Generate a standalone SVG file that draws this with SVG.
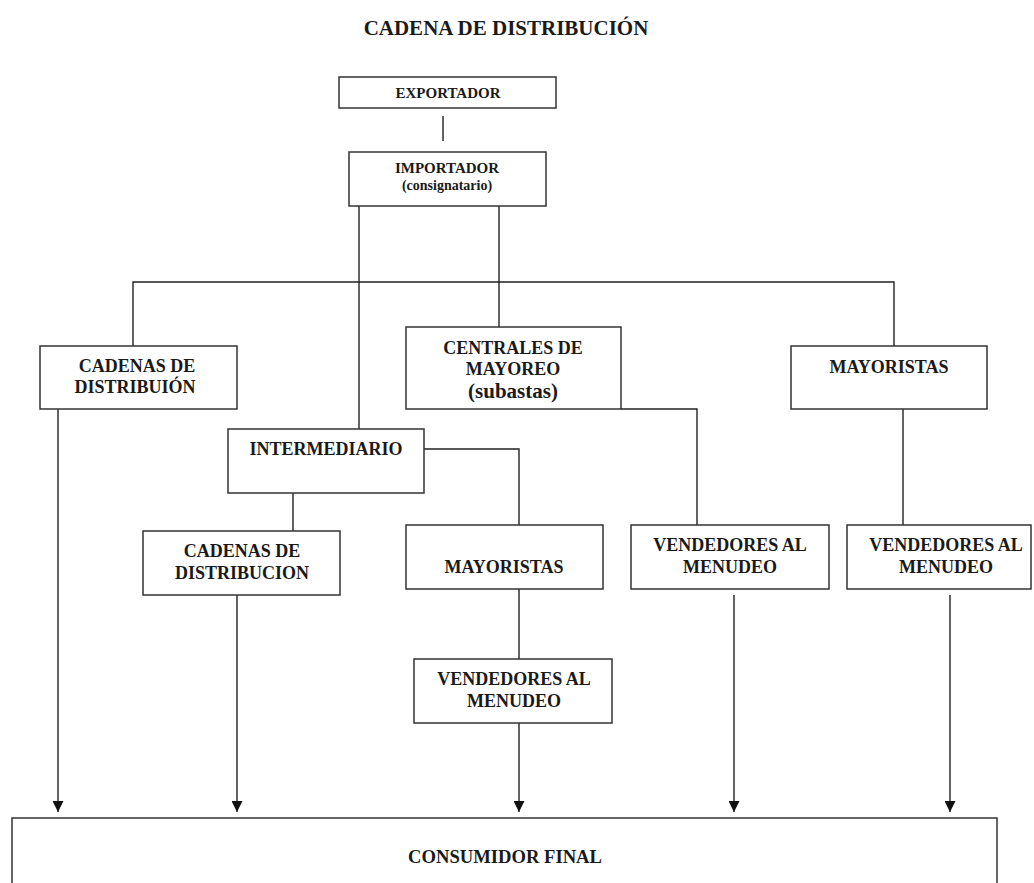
<svg xmlns="http://www.w3.org/2000/svg" width="1034" height="883" viewBox="0 0 1034 883">
<style>
  .box{fill:#fff;stroke:#333;stroke-width:1.5}
  .t{font-family:"Liberation Serif","Times New Roman",serif;font-weight:bold;font-size:18px;fill:#1a1a1a;text-anchor:middle}
  .s{font-size:15px}
  .xs{font-size:14px}
  .b{font-size:21px}
  .c{fill:none;stroke:#222;stroke-width:1.4}
</style>
<defs>
  <marker id="ah" markerUnits="userSpaceOnUse" markerWidth="11" markerHeight="11" refX="11" refY="5.5" orient="auto" viewBox="0 0 11 11">
    <path d="M0,0 L11,5.5 L0,11 z" fill="#111"/>
  </marker>
</defs>
<rect width="1034" height="883" fill="#fff"/>
<text class="t b" x="506" y="35">CADENA DE DISTRIBUCIÓN</text>

<g id="connectors">
  <path class="c" d="M443,116 V141"/>
  <path class="c" d="M359,206 V429"/>
  <path class="c" d="M499,206 V327"/>
  <path class="c" d="M133,346 V282 H894 V346"/>
  <path class="c" d="M293,493 V531"/>
  <path class="c" d="M424,449 H519 V525"/>
  <path class="c" d="M621,409 H697 V525"/>
  <path class="c" d="M903,409 V525"/>
  <path class="c" d="M519,589 V659"/>
  <path class="c" d="M58,403 V812" marker-end="url(#ah)"/>
  <path class="c" d="M237,595 V812" marker-end="url(#ah)"/>
  <path class="c" d="M519,723 V812" marker-end="url(#ah)"/>
  <path class="c" d="M734,595 V812" marker-end="url(#ah)"/>
  <path class="c" d="M950,595 V812" marker-end="url(#ah)"/>
</g>

<g id="exportador">
  <rect class="box" x="339" y="77" width="217" height="31"/>
  <text class="t s" x="448" y="98">EXPORTADOR</text>
</g>
<g id="importador">
  <rect class="box" x="349" y="152" width="197" height="54"/>
  <text class="t s" x="447" y="173">IMPORTADOR</text>
  <text class="t xs" x="447" y="190">(consignatario)</text>
</g>
<g id="cadenas1">
  <rect class="box" x="40" y="346" width="197" height="63"/>
  <text class="t" x="137" y="372">CADENAS DE</text>
  <text class="t" x="135" y="393">DISTRIBUIÓN</text>
</g>
<g id="centrales">
  <rect class="box" x="406" y="327" width="215" height="82"/>
  <text class="t" x="513" y="354">CENTRALES DE</text>
  <text class="t" x="513" y="375">MAYOREO</text>
  <text class="t b" x="513" y="398">(subastas)</text>
</g>
<g id="mayoristas1">
  <rect class="box" x="791" y="346" width="196" height="63"/>
  <text class="t" x="889" y="373">MAYORISTAS</text>
</g>
<g id="intermediario">
  <rect class="box" x="228" y="429" width="196" height="64"/>
  <text class="t" x="326" y="455">INTERMEDIARIO</text>
</g>
<g id="cadenas2">
  <rect class="box" x="143" y="531" width="197" height="64"/>
  <text class="t" x="242" y="557">CADENAS DE</text>
  <text class="t" x="242" y="579">DISTRIBUCION</text>
</g>
<g id="mayoristas2">
  <rect class="box" x="406" y="525" width="197" height="64"/>
  <text class="t" x="504" y="573">MAYORISTAS</text>
</g>
<g id="vendedores1">
  <rect class="box" x="631" y="525" width="198" height="64"/>
  <text class="t" x="730" y="551">VENDEDORES AL</text>
  <text class="t" x="730" y="573">MENUDEO</text>
</g>
<g id="vendedores2">
  <rect class="box" x="847" y="525" width="184" height="64"/>
  <text class="t" x="946" y="551">VENDEDORES AL</text>
  <text class="t" x="946" y="573">MENUDEO</text>
</g>
<g id="vendedores3">
  <rect class="box" x="414" y="659" width="198" height="64"/>
  <text class="t" x="514" y="685">VENDEDORES AL</text>
  <text class="t" x="514" y="707">MENUDEO</text>
</g>
<g id="consumidor">
  <rect class="box" x="12" y="818" width="985" height="80"/>
  <text class="t" x="505" y="863" textLength="194" lengthAdjust="spacingAndGlyphs">CONSUMIDOR FINAL</text>
</g>
</svg>
